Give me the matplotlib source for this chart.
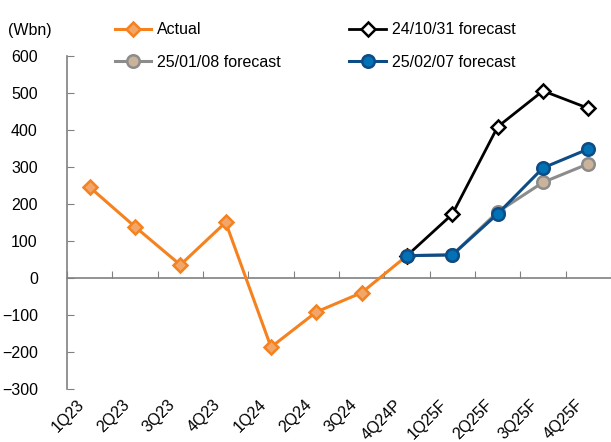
import matplotlib.pyplot as plt
import numpy as np

plt.rcParams['font.family'] = ['Liberation Sans', 'DejaVu Sans']

# data (Wbn)
quarters = ['1Q23', '2Q23', '3Q23', '4Q23', '1Q24', '2Q24', '3Q24', '4Q24P',
            '1Q25F', '2Q25F', '3Q25F', '4Q25F']
actual = [245, 138, 35, 150, -187, -92, -40, 60]
fc_241031 = [60, 172, 408, 505, 458]
fc_250108 = [60, 62, 178, 258, 308]
fc_250207 = [60, 62, 173, 297, 348]

x = np.arange(len(quarters))
x_act = x[:len(actual)]
x_fc = x[7:]

fig = plt.figure(figsize=(6.11, 4.42), dpi=100)
ax = fig.add_axes([0.1097, 0.120, 0.8903, 0.754])

ax.plot(x_act, actual, color='#F5821F', lw=2.2, marker='D', ms=7,
        mfc='#F2A66A', mec='#F5821F', mew=1.8, label='Actual', zorder=3)
ax.plot(x_fc, fc_241031, color='black', lw=2.0, marker='D', ms=7,
        mfc='white', mec='black', mew=1.8, label='24/10/31 forecast', zorder=4)
ax.plot(x_fc, fc_250108, color='#8C8C8C', lw=2.2, marker='o', ms=9,
        mfc='#C9B39A', mec='#8C8C8C', mew=1.8, label='25/01/08 forecast', zorder=5)
ax.plot(x_fc, fc_250207, color='#0E4C85', lw=2.2, marker='o', ms=9,
        mfc='#0072B5', mec='#0E4C85', mew=1.8, label='25/02/07 forecast', zorder=6)

ax.set_xlim(-0.5, 11.5)
ax.set_ylim(-300, 600)
ax.set_yticks(range(-300, 601, 100))
ax.tick_params(axis='y', direction='in', length=5, color='#808080',
               labelsize=11.5, pad=21)

# x axis drawn at zero, labels at the bottom
ax.spines['top'].set_visible(False)
ax.spines['right'].set_visible(False)
ax.spines['left'].set_color('#808080')
ax.spines['bottom'].set_position(('data', 0))
ax.spines['bottom'].set_color('#808080')
ax.spines['left'].set_linewidth(1.2)
ax.spines['bottom'].set_linewidth(1.2)
ax.set_xticks(np.arange(-0.5, 11.6, 1))
ax.set_xticklabels([])
ax.tick_params(axis='x', direction='in', length=5, color='#808080')
for i, q in enumerate(quarters):
    ax.text(i - 0.28, -322, q, rotation=45, ha='right', va='top',
            rotation_mode='anchor', fontsize=11.5, transform=ax.transData)

fig.text(0.013, 0.92, '(Wbn)', fontsize=11.5)

h, l = ax.get_legend_handles_labels()
order = [0, 2, 1, 3]
fig.legend([h[i] for i in order], [l[i] for i in order], ncol=2,
           loc='upper left', bbox_to_anchor=(0.164, 0.982), frameon=False,
           fontsize=11.5, handlelength=2.3, handletextpad=0.35,
           columnspacing=4.3, labelspacing=1.1)

fig.savefig('out.png', dpi=100)
